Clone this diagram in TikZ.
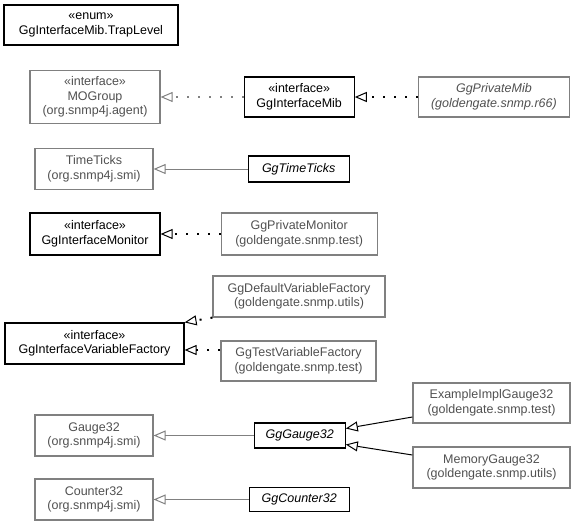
\documentclass[tikz,border=0pt]{standalone}
\usepackage{fontspec}
\setmainfont{Liberation Sans}
\usetikzlibrary{arrows.meta,positioning}
\definecolor{extgray}{RGB}{128,128,128}
\definecolor{exttext}{RGB}{80,80,80}
\tikzset{
     cls/.style={draw=black, line width=1.2pt, text=black, align=center, inner sep=0pt,
                 font=\fontsize{12.5}{14.5}\selectfont},
     ext/.style={cls, draw=extgray, text=exttext},
     size/.style 2 args={minimum width=#1pt, minimum height=#2pt},
      extends/.style = {black, line width=1pt, -{Triangle[open, length=12pt, width=10pt, line width=1pt]}},
      implements/.style = {extends, line width=2pt, dash pattern=on 2pt off 9pt},
      position/.style args={#1:#2 from #3}{
        at=(#3.#1), anchor=#1+180, shift=(#1:#2)
    },
    }
\begin{document}
\begin{tikzpicture}[x=1pt, y=-1pt]
        \useasboundingbox (0,0) rectangle (576,525);
        \node [cls, size={174}{40}] (a) at (91,25) {«enum»\\GgInterfaceMib.TrapLevel};
        \node [ext, size={130}{53}] (b) at (95,97) {«interface»\\MOGroup\\(org.snmp4j.agent)};
        \node [cls, size={110}{40}] (c) [position=0:83pt from b] {«interface»\\GgInterfaceMib};
        \node [ext, size={151}{40}] (d) [position=0:63pt from c] {\itshape GgPrivateMib\\\itshape(goldengate.snmp.r66)};
        \node [ext, size={118}{41}] (e) at (94,169) {TimeTicks\\(org.snmp4j.smi)};
        \node [cls, size={101}{26}] (f) [position=0:94pt from e] {\itshape GgTimeTicks};
        \node [cls, size={130}{42}] (g) at (95,234) {«interface»\\GgInterfaceMonitor};
        \node [ext, size={156}{42}] (h) [position=0:60pt from g] {GgPrivateMonitor\\(goldengate.snmp.test)};
        \node [ext, size={172}{41}] (i) at (299,296.5) {GgDefaultVariableFactory\\(goldengate.snmp.utils)};
        \node [cls, size={179}{41}] (j) at (94.5,343.5) {«interface»\\GgInterfaceVariableFactory};
        \node [ext, size={155}{40}] (k) at (298.5,361) {GgTestVariableFactory\\(goldengate.snmp.test)};
        \node [ext, size={118}{41}] (l) at (94,435.5) {Gauge32\\(org.snmp4j.smi)};
        \node [cls, size={91}{25}] (m) [position=0:100pt from l] {\itshape GgGauge32};
        \node [ext, size={157}{40}] (n) at (491.5,403) {ExampleImplGauge32\\(goldengate.snmp.test)};
        \node [ext, size={157}{41}] (o) at (491.5,467.5) {MemoryGauge32\\(goldengate.snmp.utils)};
        \node [ext, size={118}{41}] (p) at (94,499.5) {Counter32\\(org.snmp4j.smi)};
        \node [cls, size={100}{24}] (q) [position=0:95pt from p] {\itshape GgCounter32};
        \path[extends]
        (c) edge[implements, draw=extgray] (b)
        (d) edge[implements] (c)
        (f) edge[draw=extgray] (e)
        (h) edge[implements] (g)
        (i.south west) edge[implements] (j.north east)
        ([yshift=11pt]k.west) edge[implements] ([yshift=-6.5pt]j.east)
        (m) edge[draw=extgray] (l)
        ([yshift=-14pt]n.west) edge ([yshift=7pt]m.east)
        ([yshift=12.5pt]o.west) edge ([yshift=-9pt]m.east)
        (q) edge[draw=extgray] (p);
    \end{tikzpicture}
\end{document}
